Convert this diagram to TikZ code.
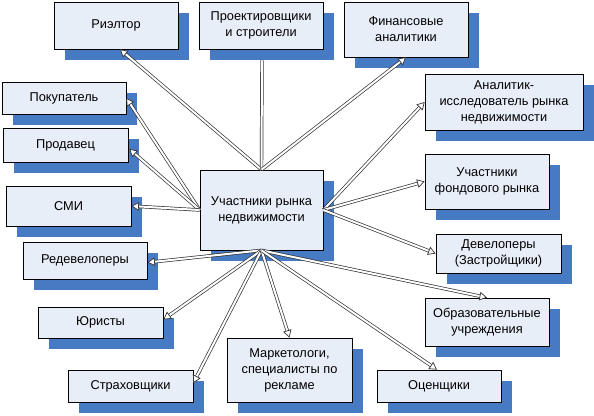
\documentclass[tikz,border=0pt]{standalone}
\usepackage{fontspec}
\setmainfont{Liberation Sans}
\usetikzlibrary{shadows,arrows.meta,calc}
\definecolor{boxfill}{RGB}{232,238,248}
\definecolor{shadowblue}{RGB}{70,122,194}
\tikzset{
  x=1pt, y=-1pt,
  box/.style={draw=black, line width=0.7pt, fill=boxfill, align=center,
    inner sep=1pt, font=\fontsize{12.8}{16}\selectfont,
    drop shadow={shadow xshift=10.5pt, shadow yshift=-10.5pt, fill=shadowblue, opacity=1}},
  link/.style={double=white, double distance=2pt, line width=0.7pt, draw=black!80,
    -{Triangle[open, fill=white, length=7.5pt, width=8.5pt]}},
  plainlink/.style={double=white, double distance=2pt, line width=0.7pt, draw=black!80}
}
\begin{document}
\begin{tikzpicture}
\useasboundingbox (0,0) rectangle (594,415);
% nodes
\node[box, minimum width=124pt, minimum height=47pt] (riel) at (116,25.5) {Риэлтор};
\node[box, minimum width=124pt, minimum height=47pt] (proj) at (261,25.5) {Проектировщики\\и строители};
\node[box, minimum width=124pt, minimum height=55pt] (fin) at (406,29.5) {Финансовые\\аналитики};
\node[box, minimum width=158pt, minimum height=56pt] (anal) at (504,102) {Аналитик-\\исследователь рынка\\недвижимости};
\node[box, minimum width=124pt, minimum height=32pt] (pok) at (64,98) {Покупатель};
\node[box, minimum width=125pt, minimum height=34pt] (prod) at (65.5,145) {Продавец};
\node[box, minimum width=125pt, minimum height=40pt] (smi) at (68.5,206) {СМИ};
\node[box, minimum width=124pt, minimum height=37pt] (redev) at (85,260.5) {Редевелоперы};
\node[box, minimum width=123pt, minimum height=80pt] (c) at (261.5,210) {Участники рынка\\недвижимости};
\node[box, minimum width=124pt, minimum height=55pt] (fond) at (487,181.5) {Участники\\фондового рынка};
\node[box, minimum width=125pt, minimum height=39pt] (devel) at (498.5,253.5) {Девелоперы\\(Застройщики)};
\node[box, minimum width=125pt, minimum height=31pt] (yur) at (100.5,322.5) {Юристы};
\node[box, minimum width=125pt, minimum height=32pt] (strah) at (130.5,386) {Страховщики};
\node[box, minimum width=125pt, minimum height=64pt] (mark) at (289.5,370) {Маркетологи,\\специалисты по\\рекламе};
\node[box, minimum width=124pt, minimum height=48pt] (obraz) at (487,322) {Образовательные\\учреждения};
\node[box, minimum width=124pt, minimum height=32pt] (ocen) at (439,386) {Оценщики};
% connectors
\draw[link] (c.north) -- ($(riel.south)+(4,0)$);
\draw[plainlink] (c.north) -- ($(proj.south)+(1,11)$);
\draw[link] (c.north) -- (fin.south);
\draw[link] (c.west) -- (pok.east);
\draw[link] (c.west) -- ($(prod.east)+(1,4)$);
\draw[link] (c.west) -- (smi.east);
\draw[link] (c.south) -- ($(redev.east)+(0,2)$);
\draw[link] (c.south) -- ($(yur.east)+(0,-3)$);
\draw[link] (c.south) -- ($(strah.east)+(0,-3)$);
\draw[link] (c.south) -- (mark.north);
\draw[link] (c.south) -- (obraz.north);
\draw[link] (c.south) -- ($(ocen.north)+(-2,0)$);
\draw[link] (c.east) -- (anal.west);
\draw[link] (c.east) -- (fond.west);
\draw[link] (c.east) -- (devel.west);
\end{tikzpicture}
\end{document}
